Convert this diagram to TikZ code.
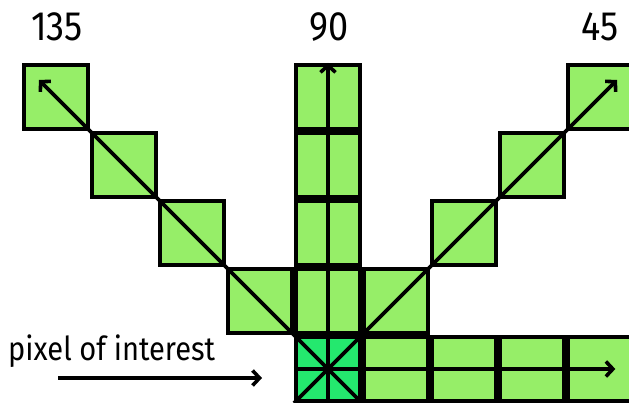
\documentclass[tikz,border=0pt]{standalone}
\usepackage{fontspec}
\setmainfont{Fira Sans}
\newfontfamily\narrowfont[FakeStretch=0.88]{Fira Sans}
\usetikzlibrary{positioning, arrows.meta, calc}
\definecolor{cellgreen}{HTML}{96EE68}
\definecolor{poigreen}{HTML}{24E86E}

\begin{document}
\begin{tikzpicture}[
    x=1pt, y=-1pt,
    cell/.style={draw, line width=4.2pt, fill=cellgreen, minimum size=64pt, inner sep=0pt},
    poi/.style={cell, fill=poigreen},
    arr/.style={-{Straight Barb[length=7pt, width=15pt]}, line width=3.6pt},
    ang/.style={font=\narrowfont\fontsize{41}{45}\selectfont, inner sep=0pt, anchor=base},
    lbl/.style={font=\narrowfont\fontsize{33}{36}\selectfont, inner sep=0pt, anchor=base west}
  ]
  \useasboundingbox (0,0) rectangle (629,402);

  % pixel of interest
  \node[poi] (p) at (328,369) {};
  % cells to the right
  \foreach \i in {1,...,4}
    \node[cell] (r\i) at (328+68*\i,369) {};
  % column and the two diagonals
  \foreach \j in {1,...,4} {
    \node[cell] (u\j) at (328,369-68*\j) {};
    \node[cell] (nw\j) at (328-68*\j,369-68*\j) {};
    \node[cell] (ne\j) at (328+68*\j,369-68*\j) {};
  }

  % directions
  \draw[arr] (p.south) -- (u4.north);
  \draw[arr] (p.south east) -- ($(nw4.center)!0.5!(nw4.north west)$);
  \draw[arr] (p.south west) -- ($(ne4.center)!0.5!(ne4.north east)$);
  \draw[arr] (p.west) -- ($(r4.center)!0.45!(r4.east)$);

  % angle labels
  \node[ang] (a135) at (57,40) {135};
  \node[ang] (a90) at (329,40) {90};
  \node[ang] (a45) at (600,40) {45};

  % pointer
  \node[lbl] (poitext) at (8,360) {pixel of interest};
  \coordinate (poistart) at (58,378);
  \coordinate (poiend) at (262,378);
  \draw[arr] (poistart) -- (poiend);
\end{tikzpicture}
\end{document}
